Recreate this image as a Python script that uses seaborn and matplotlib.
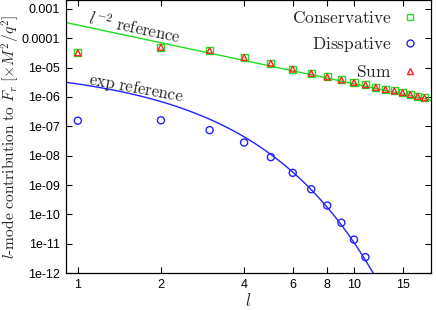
import numpy as np
import pandas as pd
import matplotlib
matplotlib.use('Agg')
import matplotlib.pyplot as plt
import seaborn as sns
from matplotlib.lines import Line2D

sns.set_theme(style='ticks')
plt.rcParams['font.family'] = ['Liberation Sans', 'DejaVu Sans']
plt.rcParams['mathtext.fontset'] = 'cm'

# data
l_cons = [1, 2, 3, 4, 5, 6, 7, 8, 9, 10, 11, 12, 13, 14, 15, 16, 17, 18]
conservative = [3.2e-5, 4.9e-5, 3.8e-5, 2.2e-5, 1.4e-5, 8.9e-6, 6.4e-6, 4.8e-6, 3.8e-6,
                3.1e-6, 2.6e-6, 2.1e-6, 1.8e-6, 1.6e-6, 1.4e-6, 1.2e-6, 1.05e-6, 9.3e-7]
total = [3.2e-5, 4.9e-5, 3.8e-5, 2.2e-5, 1.4e-5, 8.9e-6, 6.4e-6, 4.8e-6, 3.8e-6,
         3.1e-6, 2.6e-6, 2.1e-6, 1.8e-6, 1.6e-6, 1.4e-6, 1.2e-6, 1.05e-6, 9.3e-7]
l_diss = [1, 2, 3, 4, 5, 6, 7, 8, 9, 10, 11]
dissipative = [1.55e-7, 1.6e-7, 7.4e-8, 2.8e-8, 8.9e-9, 2.6e-9, 7.2e-10, 2.0e-10,
               5.2e-11, 1.38e-11, 3.5e-12]

# reference curves: A / l^2 and B * 10^(-k l)
pow_amp = 2.8e-4
exp_amp = 1.1e-5
exp_rate = 0.6

xticks = [1, 2, 4, 6, 8, 10, 15]
yticks = [1e-3, 1e-4, 1e-5, 1e-6, 1e-7, 1e-8, 1e-9, 1e-10, 1e-11, 1e-12]
ytick_labels = ['0.001', '0.0001', '1e-05', '1e-06', '1e-07', '1e-08', '1e-09',
                '1e-10', '1e-11', '1e-12']

green = '#22dd22'
blue = '#2222ff'
red = '#ff2222'

fig = plt.figure(figsize=(4.36, 3.10), dpi=100)
ax = fig.add_axes([0.151, 0.119, 0.8375, 0.881])

lref = np.geomspace(0.9, 19, 200)
ref_df = pd.DataFrame({'l': lref, 'pow': pow_amp / lref**2,
                       'exp': exp_amp * 10**(-exp_rate * lref)})
sns.lineplot(data=ref_df, x='l', y='pow', color=green, lw=1, ax=ax)
sns.lineplot(data=ref_df, x='l', y='exp', color=blue, lw=1, ax=ax)

sns.scatterplot(x=l_cons, y=conservative, marker='s', s=26, facecolor='none',
                edgecolor=green, linewidth=1, ax=ax, zorder=3)
sns.scatterplot(x=l_diss, y=dissipative, marker='o', s=26, facecolor='none',
                edgecolor=blue, linewidth=1, ax=ax, zorder=3)
sns.scatterplot(x=l_cons, y=total, marker='^', s=18, facecolor='none',
                edgecolor=red, linewidth=1, ax=ax, zorder=4)

ax.set_xscale('log')
ax.set_yscale('log')
ax.set_xlim(0.905, 19)
ax.set_ylim(1e-12, 2e-3)
ax.set_xticks(xticks)
ax.set_xticklabels([str(t) for t in xticks])
ax.xaxis.set_minor_locator(matplotlib.ticker.NullLocator())
ax.set_yticks(yticks)
ax.set_yticklabels(ytick_labels)
ax.yaxis.set_minor_locator(matplotlib.ticker.NullLocator())
ax.tick_params(direction='in', top=True, right=True, length=4, width=0.8,
               labelsize=9, colors='black', pad=4)
for sp in ax.spines.values():
    sp.set_linewidth(0.9)
    sp.set_color('black')

ax.set_xlabel(r'$l$', fontsize=12, labelpad=1)
ax.set_ylabel(r'$l\mathrm{\text{-}mode\ contribution\ to\ }F_r\ [\times M^2/q^2]$',
              fontsize=11.2, labelpad=0)

ax.text(1.6, 2.3e-4, r'$l^{-2}\ \mathrm{reference}$', fontsize=12,
        rotation=-12, ha='center', va='center')
ax.text(1.63, 1.9e-6, r'$\mathrm{exp\ reference}$', fontsize=12,
        rotation=-10.5, ha='center', va='center')

handles = [
    Line2D([0], [0], marker='s', ls='none', markersize=5, markerfacecolor='none',
           markeredgecolor=green, label=r'$\mathrm{Conservative}$'),
    Line2D([0], [0], marker='o', ls='none', markersize=5, markerfacecolor='none',
           markeredgecolor=blue, label=r'$\mathrm{Disspative}$'),
    Line2D([0], [0], marker='^', ls='none', markersize=4.5, markerfacecolor='none',
           markeredgecolor=red, label=r'$\mathrm{Sum}$'),
]
ax.legend(handles=handles, loc='upper right', markerfirst=False, frameon=False,
          fontsize=12.5, labelspacing=0.56, handletextpad=0.3, handlelength=1.5,
          borderaxespad=0, bbox_to_anchor=(0.997, 0.99))

fig.savefig('out.png', dpi=100)
